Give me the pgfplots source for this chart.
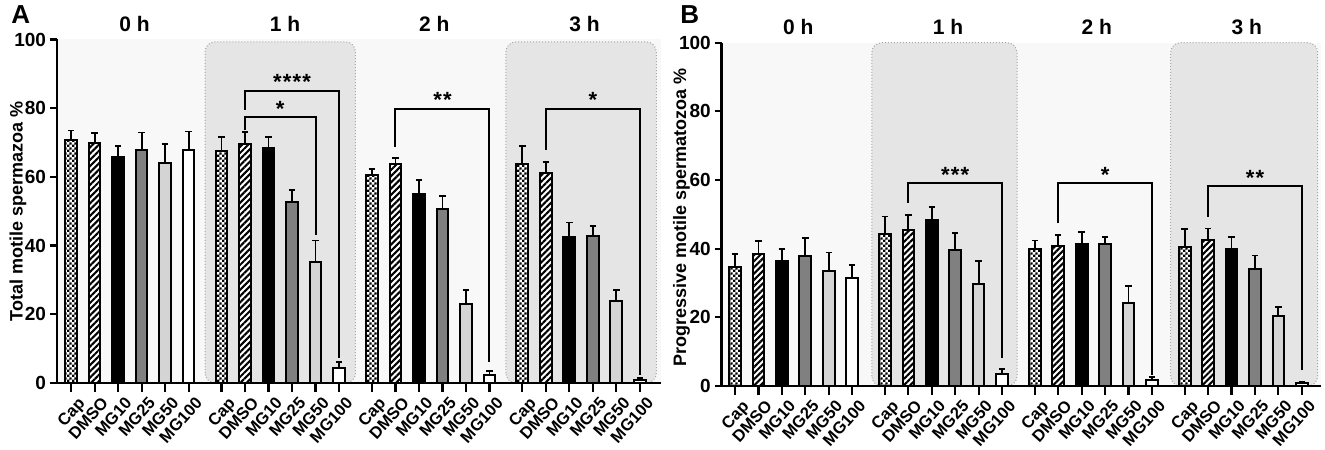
\documentclass[border=0pt]{standalone}
\usepackage{fontspec}
\setmainfont{Liberation Sans}
\usepackage{pgfplots}
\usepackage{pgfplotstable}
\pgfplotsset{compat=1.18}
\usetikzlibrary{patterns,patterns.meta}
\pgfdeclarepatternformonly{checker}{\pgfpointorigin}{\pgfqpoint{2.6pt}{2.6pt}}{\pgfqpoint{2.6pt}{2.6pt}}{%
 \pgfpathrectangle{\pgfpointorigin}{\pgfqpoint{1.3pt}{1.3pt}}%
 \pgfpathrectangle{\pgfqpoint{1.3pt}{1.3pt}}{\pgfqpoint{1.3pt}{1.3pt}}%
 \pgfusepath{fill}}
\definecolor{bgl}{gray}{0.972}
\definecolor{bgd}{gray}{0.90}
\definecolor{mgquarter}{gray}{0.50}
\definecolor{mghalf}{gray}{0.83}
\definecolor{boxline}{gray}{0.65}

\pgfplotstableread{
x    cap  capE dmso dmsoE mga mgaE mgb mgbE mgc mgcE mgd mgdE
0    70.7 2.8  69.8 2.9   65.9 3.2  67.7 5.2  64.1 5.4  67.7 5.5
6.4  67.5 4.2  69.7 3.3   68.3 3.4  52.6 3.5  35.3 6.2  4.5  1.7
12.8 60.6 1.7  63.7 1.7   54.9 4.1  50.6 3.9  22.9 4.1  2.2  1.2
19.2 63.7 5.3  61.0 3.4   42.4 4.3  42.7 3.1  24.0 3.1  0.9  0.6
}\dataA
\pgfplotstableread{
x    cap  capE dmso dmsoE mga mgaE mgb mgbE mgc mgcE mgd mgdE
0    34.7 3.7  38.4 3.9   36.5 3.3  38.0 5.0  33.6 5.3  31.5 3.7
6.4  44.3 5.1  45.4 4.5   48.4 3.7  39.7 4.8  29.7 6.8  3.4  1.6
12.8 39.8 2.6  40.9 3.1   41.4 3.5  41.3 2.1  24.3 4.8  1.7  0.9
19.2 40.6 5.2  42.6 3.3   39.9 3.4  34.2 3.8  20.5 2.4  0.9  0.4
}\dataB

\pgfplotsset{
 mybar/.style={ybar, bar width=0.5, bar shift=0pt, draw=black, line width=1pt,
   error bars/y dir=plus, error bars/y explicit,
   error bars/error bar style={line width=0.9pt, black, solid},
   error bars/error mark options={rotate=90, mark size=1.6pt, line width=0.9pt, black, solid}},
 panel/.style={
   scale only axis, ymin=0, ymax=100, clip=false, axis on top,
   axis lines*=left,
   axis line style={line width=1.4pt, black},
   tick style={line width=1.1pt, black},
   tick align=outside,
   xtick style={/pgfplots/major tick length=4.5pt},
   ytick style={/pgfplots/major tick length=3.5pt},
   ytick={0,20,40,60,80,100},
   xtick={0,1,2,3,4,5,6.4,7.4,8.4,9.4,10.4,11.4,12.8,13.8,14.8,15.8,16.8,17.8,19.2,20.2,21.2,22.2,23.2,24.2},
   xticklabels={Cap,DMSO,MG10,MG25,MG50,MG100,Cap,DMSO,MG10,MG25,MG50,MG100,Cap,DMSO,MG10,MG25,MG50,MG100,Cap,DMSO,MG10,MG25,MG50,MG100},
   xticklabel style={rotate=48, anchor=north east, inner sep=0pt, yshift=-3.5pt, xshift=0.5pt, font=\bfseries\fontsize{8.3}{9}\selectfont},
   yticklabel style={font=\bfseries\fontsize{9.5}{10}\selectfont, inner sep=1pt},
   /pgf/number format/assume math mode=true,
   ylabel style={font=\bfseries\fontsize{9}{10}\selectfont, anchor=center},
   axis background/.style={fill=bgl},
 },
}
\tikzset{
 ttl/.style={anchor=base, yshift=3.9pt, font=\bfseries\fontsize{10.5}{11}\selectfont},
 stars/.style={anchor=base, font=\bfseries\fontsize{11}{11}\selectfont},
}
\newcommand{\dbox}[3]{\draw[fill=bgd, draw=boxline, densely dotted, line width=0.5pt, rounded corners=5pt] (axis cs:#1,0) rectangle (axis cs:#2,#3);}
\newcommand{\bars}[1]{%
 \addplot[mybar, preaction={fill=white}, pattern=checker] table[x=x, y=cap, y error=capE] {#1};
 \addplot[mybar, preaction={fill=white}, pattern={Lines[angle=45,distance=2.2pt,line width=1.05pt]}] table[x expr=\thisrow{x}+1, y=dmso, y error=dmsoE] {#1};
 \addplot[mybar, fill=black] table[x expr=\thisrow{x}+2, y=mga, y error=mgaE] {#1};
 \addplot[mybar, fill=mgquarter] table[x expr=\thisrow{x}+3, y=mgb, y error=mgbE] {#1};
 \addplot[mybar, fill=mghalf] table[x expr=\thisrow{x}+4, y=mgc, y error=mgcE] {#1};
 \addplot[mybar, fill=white] table[x expr=\thisrow{x}+5, y=mgd, y error=mgdE] {#1};
}
\newcommand{\stt}{\hspace{0.6pt}}

\begin{document}
\begin{tikzpicture}
\path[use as bounding box] (0,0) rectangle (662.5pt,224.5pt);

\begin{axis}[panel, at={(28.5pt,33pt)}, anchor=south west,
  width=302pt, height=171.75pt, xmin=-0.6, xmax=25.1,
  ylabel={Total motile spermazoa \%},
  ylabel style={at={(axis description cs:-0.0646,0.5)}}]
\dbox{5.7}{12.1}{99.3}
\dbox{18.5}{24.9}{99.3}
\bars{\dataA}
\draw[line width=1pt] (axis cs:7.4,79.5) |- (axis cs:11.4,85.1) -- (axis cs:11.4,7.3);
\draw[line width=1pt] (axis cs:7.4,73.6) |- (axis cs:10.4,77.3) -- (axis cs:10.4,43.1);
\draw[line width=1pt] (axis cs:13.8,68.8) |- (axis cs:17.8,79.9) -- (axis cs:17.8,6.2);
\draw[line width=1pt] (axis cs:20.2,67.8) |- (axis cs:24.2,79.9) -- (axis cs:24.2,2.3);
\node[stars] at (axis cs:9.4,85.3) {*\stt*\stt*\stt*};
\node[stars] at (axis cs:8.9,77.5) {*};
\node[stars] at (axis cs:15.8,80.1) {*\stt*};
\node[stars] at (axis cs:22.2,80.1) {*};
\node[ttl] at (axis cs:2.7,100) {0 h};
\node[ttl] at (axis cs:9.1,100) {1 h};
\node[ttl] at (axis cs:15.45,100) {2 h};
\node[ttl] at (axis cs:21.85,100) {3 h};
\end{axis}

\begin{axis}[panel, at={(360.85pt,31.5pt)}, anchor=south west,
  width=299.4pt, height=171.65pt, xmin=-0.57, xmax=25.0,
  ylabel={Progressive motile spermatozoa \%},
  ylabel style={at={(axis description cs:-0.067,0.49)}}]
\dbox{5.84}{12.04}{100}
\dbox{18.6}{24.88}{100}
\bars{\dataB}
\draw[line width=1pt] (axis cs:7.4,53.4) |- (axis cs:11.4,59.1) -- (axis cs:11.4,8.1);
\draw[line width=1pt] (axis cs:13.8,47.4) |- (axis cs:17.8,59.1) -- (axis cs:17.8,3.2);
\draw[line width=1pt] (axis cs:20.2,49.3) |- (axis cs:24.2,58.3) -- (axis cs:24.2,4.7);
\node[stars] at (axis cs:9.4,59.3) {*\stt*\stt*};
\node[stars] at (axis cs:15.8,59.3) {*};
\node[stars] at (axis cs:22.2,58.5) {*\stt*};
\node[ttl] at (axis cs:2.7,100) {0 h};
\node[ttl] at (axis cs:9.1,100) {1 h};
\node[ttl] at (axis cs:15.45,100) {2 h};
\node[ttl] at (axis cs:21.85,100) {3 h};
\end{axis}

\node[anchor=north west, inner sep=0pt, font=\bfseries\fontsize{13}{13}\selectfont] at (5.5pt,222pt) {A};
\node[anchor=north west, inner sep=0pt, font=\bfseries\fontsize{13}{13}\selectfont] at (340pt,222pt) {B};
\end{tikzpicture}
\end{document}
